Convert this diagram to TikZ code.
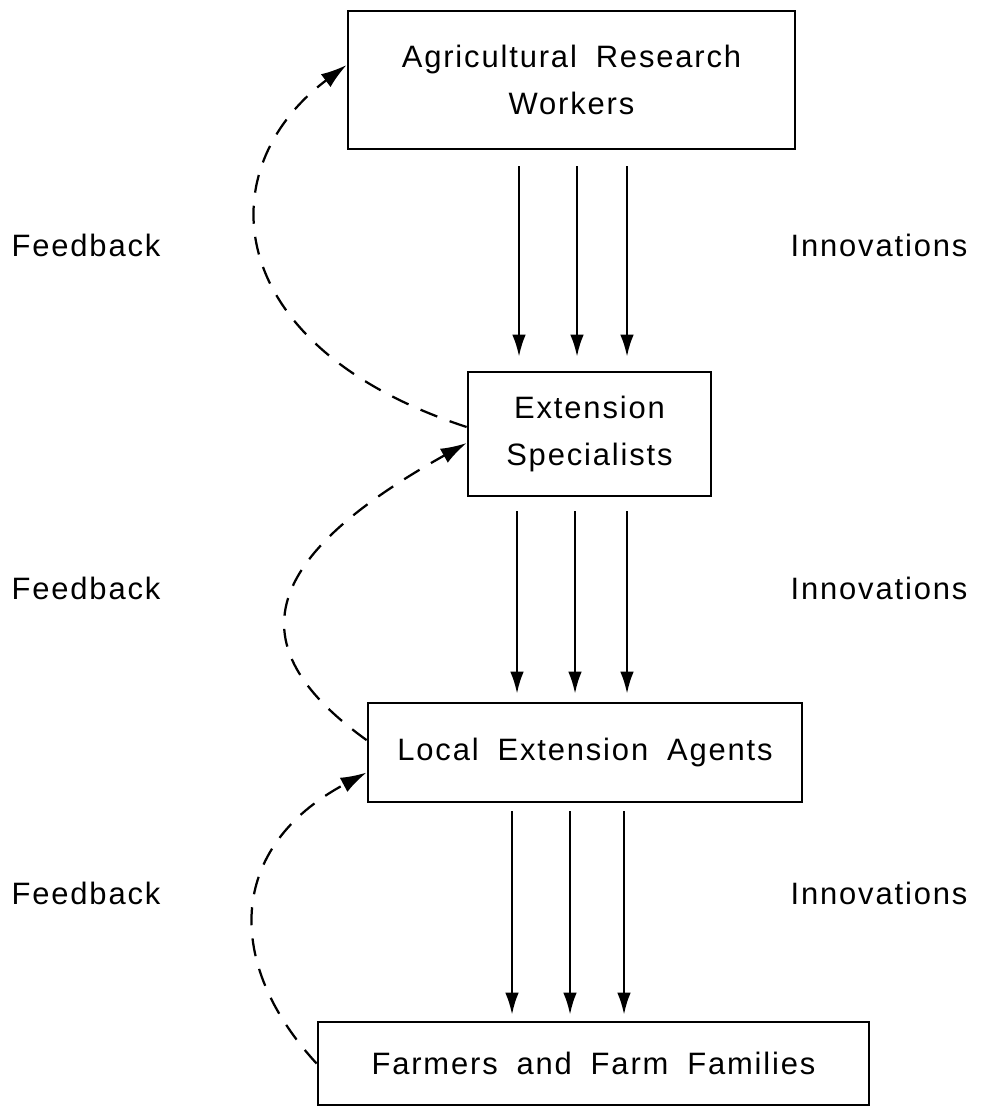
\documentclass[tikz,border=0pt]{standalone}
\usepackage{fontspec}
\setmainfont{Liberation Sans}[LetterSpace=6,WordSpace=1.8]
\usetikzlibrary{arrows.meta,positioning}
\tikzset{box node/.style={rectangle,draw,line width=1.9pt,inner sep=0pt,align=center,
                          font=\fontsize{22}{34}\selectfont},
         side label/.style={rectangle,draw=none,fill=none,font=\fontsize{22}{26}\selectfont},
         flow edge/.style={-{Latex[length=5.5mm,width=3.4mm]},line width=1.6pt},
         feedback edge/.style={-{Latex[length=6.5mm,width=4mm]},line width=1.6pt,dash pattern=on 0.45cm off 0.33cm},
}

\begin{document}
\begin{tikzpicture}[x=0.025cm,y=-0.025cm]

\useasboundingbox (0,0) rectangle (985,1106);

% the four boxes
\node[box node, minimum width=11.175cm, minimum height=3.45cm] (arw) at (571.5,80)
    {Agricultural  Research\\Workers};
\node[box node, minimum width=6.075cm, minimum height=3.1cm] (es) at (589.5,434)
    {Extension\\Specialists};
\node[box node, minimum width=10.85cm, minimum height=2.475cm] (lea) at (585,752.5)
    {Local  Extension  Agents};
\node[box node, minimum width=13.775cm, minimum height=2.075cm] (fff) at (593.5,1063.5)
    {Farmers and Farm Families};

% side labels
\node[side label] (fb1) at (86,245) {Feedback};
\node[side label] (fb2) at (86,588) {Feedback};
\node[side label] (fb3) at (86,893) {Feedback};
\node[side label] (in1) at (879,245) {Innovations};
\node[side label] (in2) at (879,588) {Innovations};
\node[side label] (in3) at (879,893) {Innovations};

% innovations going down
\foreach \x in {519,577,627}
    \draw[flow edge, shorten <=0.4cm, shorten >=0.35cm] (\x,0 |- arw.south) -- (\x,0 |- es.north);
\foreach \x in {517,575,627}
    \draw[flow edge, shorten <=0.35cm, shorten >=0.2cm] (\x,0 |- es.south) -- (\x,0 |- lea.north);
\foreach \x in {512,570,624}
    \draw[flow edge, shorten <=0.2cm, shorten >=0.15cm] (\x,0 |- lea.south) -- (\x,0 |- fff.north);

% feedback going up
\draw[feedback edge] ([yshift=0.175cm]es.west) .. controls +(-245,-80) and +(-140,105) .. ([yshift=0.375cm]arw.west);
\draw[feedback edge] ([yshift=0.31cm]lea.west) .. controls +(-125,-90) and +(-215,120) .. ([yshift=-0.225cm]es.west);
\draw[feedback edge] (fff.west) .. controls +(-92,-100) and +(-140,75) .. ([yshift=-0.5cm]lea.west);

\end{tikzpicture}
\end{document}
